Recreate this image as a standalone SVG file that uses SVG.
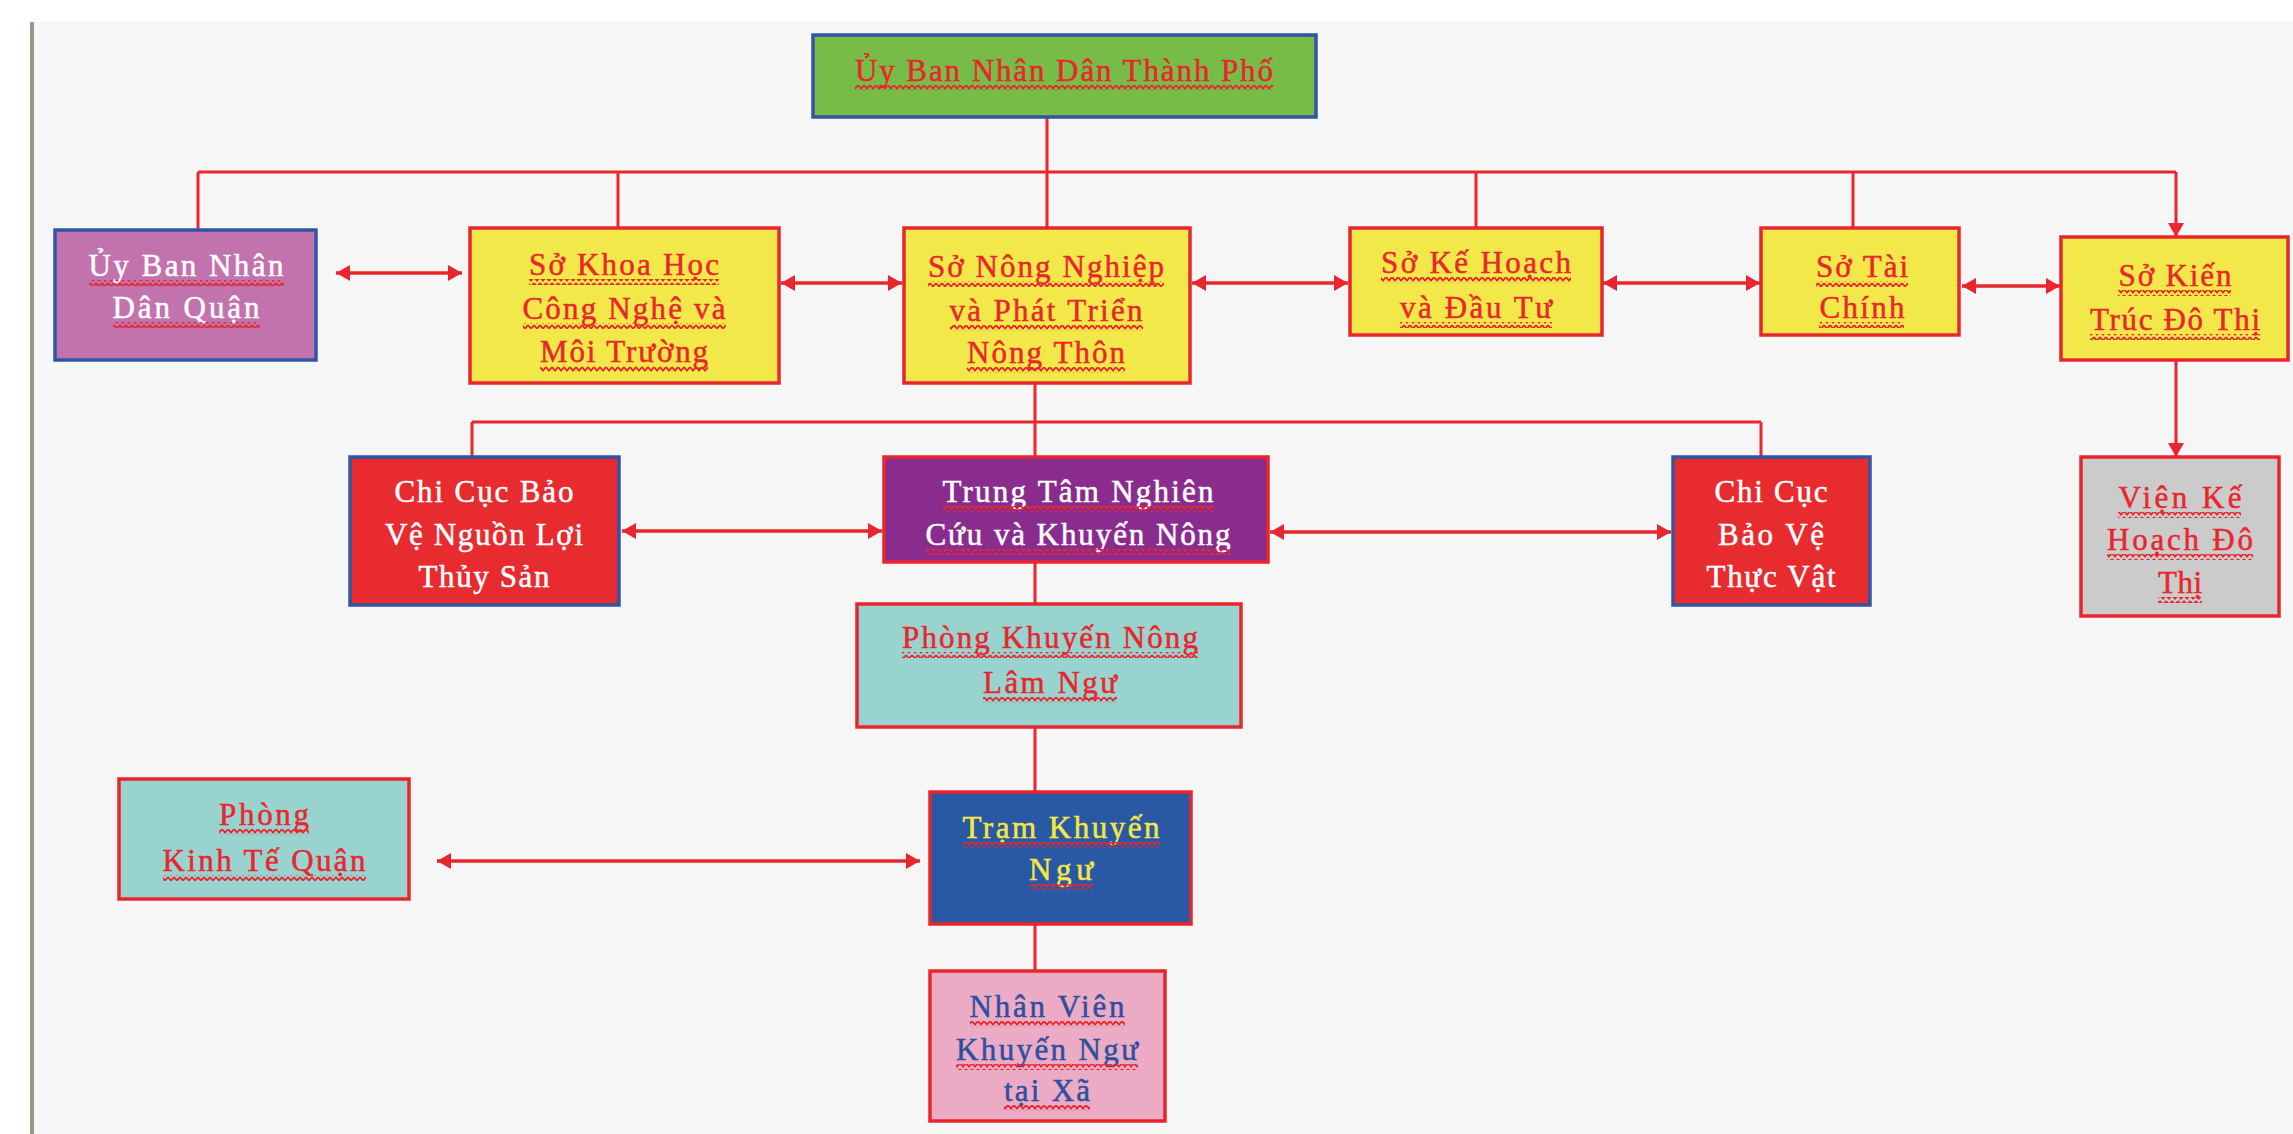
<svg xmlns="http://www.w3.org/2000/svg" width="2293" height="1134" viewBox="0 0 2293 1134">
<style>
.box{stroke-width:3.5}
.rb{stroke:#e8262d}
.bb{stroke:#2f55a4}
.t{font-family:"Liberation Serif","DejaVu Serif",serif;font-size:31px;text-anchor:middle;stroke-width:0.5}
.tr{fill:#e8262d;stroke:#e8262d}
.tw{fill:#ffffff;stroke:#ffffff}
.ty{fill:#f5e842;stroke:#f5e842}
.tb{fill:#2d4fa0;stroke:#2d4fa0}
.ln{stroke:#e8262d;stroke-width:3;fill:none}
.ar{stroke:#e8262d;stroke-width:3.5;fill:none;marker-start:url(#ah);marker-end:url(#ah)}
.ad{stroke:#e8262d;stroke-width:3;fill:none;marker-end:url(#ah)}
.sq{fill:url(#sq)}
</style>
<defs>
<marker id="ah" markerUnits="userSpaceOnUse" viewBox="0 0 14 16" refX="14" refY="8" markerWidth="14" markerHeight="16" orient="auto-start-reverse">
<path d="M0 0 L14 8 L0 16 Z" fill="#e8262d"/>
</marker>
<pattern id="sq" patternUnits="userSpaceOnUse" width="6" height="6">
<path d="M0 1 L3 4.5 L6 1" stroke="#e8262d" stroke-width="1.8" fill="none"/>
</pattern>
</defs>
<rect x="0" y="0" width="2293" height="1134" fill="#ffffff"/>
<rect x="32" y="22" width="2261" height="1112" fill="#f6f6f6"/>
<rect x="30" y="22" width="4" height="1112" fill="#9e9587"/>

<g id="connectors">
<path class="ln" d="M1047 117 V172 M198 172 H2176 M198 172 V230 M618 172 V228 M1047 172 V228 M1476 172 V228 M1853 172 V228"/>
<path class="ln" d="M1035 383 V422 M472 422 H1761 M472 422 V457 M1035 422 V457 M1761 422 V457"/>
<path class="ln" d="M1035 562 V604 M1035 727 V792 M1035 924 V971"/>
<path class="ad" d="M2176 172 V237"/>
<path class="ad" d="M2176 360 V457"/>
<path class="ar" d="M336 273 H462"/>
<path class="ar" d="M781 283 H902"/>
<path class="ar" d="M1192 283 H1348"/>
<path class="ar" d="M1603 283 H1760"/>
<path class="ar" d="M1962 286 H2060"/>
<path class="ar" d="M622 531 H882"/>
<path class="ar" d="M1270 532 H1671"/>
<path class="ar" d="M437 861 H920"/>
</g>

<g id="ubnd-tp">
<rect class="box bb" x="813" y="35" width="503" height="82" fill="#77bc47"/>
<text class="t tr" x="1064" y="81" textLength="418" lengthAdjust="spacing">Ủy Ban Nhân Dân Thành Phố</text>
<rect class="sq" x="855" y="85" width="418" height="6"/>
</g>

<g id="ubnd-quan">
<rect class="box bb" x="55" y="230" width="261" height="130" fill="#c272ad"/>
<text class="t tw" x="186" y="276" textLength="195" lengthAdjust="spacing">Ủy Ban Nhân</text>
<text class="t tw" x="186" y="318" textLength="147" lengthAdjust="spacing">Dân Quận</text>
<rect class="sq" x="89" y="280" width="195" height="6"/>
<rect class="sq" x="113" y="322" width="147" height="6"/>
</g>

<g id="so-khcn">
<rect class="box rb" x="470" y="228" width="309" height="155" fill="#f3e84a"/>
<text class="t tr" x="624" y="275" textLength="190" lengthAdjust="spacing">Sở Khoa Học</text>
<text class="t tr" x="624" y="319" textLength="203" lengthAdjust="spacing">Công Nghệ và</text>
<text class="t tr" x="624" y="362" textLength="168" lengthAdjust="spacing">Môi Trường</text>
<rect class="sq" x="529" y="279" width="190" height="6"/>
<rect class="sq" x="523" y="323" width="203" height="6"/>
<rect class="sq" x="540" y="366" width="168" height="6"/>
</g>

<g id="so-nn">
<rect class="box rb" x="904" y="228" width="286" height="155" fill="#f3e84a"/>
<text class="t tr" x="1046" y="277" textLength="236" lengthAdjust="spacing">Sở Nông Nghiệp</text>
<text class="t tr" x="1046" y="321" textLength="193" lengthAdjust="spacing">và Phát Triển</text>
<text class="t tr" x="1046" y="363" textLength="158" lengthAdjust="spacing">Nông Thôn</text>
<rect class="sq" x="928" y="281" width="236" height="6"/>
<rect class="sq" x="950" y="325" width="193" height="6"/>
<rect class="sq" x="967" y="367" width="158" height="6"/>
</g>

<g id="so-khdt">
<rect class="box rb" x="1350" y="228" width="252" height="107" fill="#f3e84a"/>
<text class="t tr" x="1476" y="273" textLength="190" lengthAdjust="spacing">Sở Kế Hoạch</text>
<text class="t tr" x="1476" y="318" textLength="152" lengthAdjust="spacing">và Đầu Tư</text>
<rect class="sq" x="1381" y="277" width="190" height="6"/>
<rect class="sq" x="1400" y="322" width="152" height="6"/>
</g>

<g id="so-tc">
<rect class="box rb" x="1761" y="228" width="198" height="107" fill="#f3e84a"/>
<text class="t tr" x="1862" y="277" textLength="92" lengthAdjust="spacing">Sở Tài</text>
<text class="t tr" x="1862" y="318" textLength="85" lengthAdjust="spacing">Chính</text>
<rect class="sq" x="1816" y="281" width="92" height="6"/>
<rect class="sq" x="1819" y="322" width="85" height="6"/>
</g>

<g id="so-kt">
<rect class="box rb" x="2061" y="237" width="227" height="123" fill="#f3e84a"/>
<text class="t tr" x="2175" y="286" textLength="113" lengthAdjust="spacing">Sở Kiến</text>
<text class="t tr" x="2175" y="330" textLength="170" lengthAdjust="spacing">Trúc Đô Thị</text>
<rect class="sq" x="2118" y="290" width="113" height="6"/>
<rect class="sq" x="2090" y="334" width="170" height="6"/>
</g>

<g id="chicuc-ts">
<rect class="box bb" x="350" y="457" width="269" height="148" fill="#e72b2f"/>
<text class="t tw" x="484" y="502" textLength="179" lengthAdjust="spacing">Chi Cục Bảo</text>
<text class="t tw" x="484" y="545" textLength="198" lengthAdjust="spacing">Vệ Nguồn Lợi</text>
<text class="t tw" x="484" y="587" textLength="131" lengthAdjust="spacing">Thủy Sản</text>
</g>

<g id="trung-tam">
<rect class="box rb" x="884" y="457" width="384" height="105" fill="#8a2c8e"/>
<text class="t tw" x="1078" y="502" textLength="271" lengthAdjust="spacing">Trung Tâm Nghiên</text>
<text class="t tw" x="1078" y="545" textLength="305" lengthAdjust="spacing">Cứu và Khuyến Nông</text>
<rect class="sq" x="943" y="506" width="271" height="6"/>
<rect class="sq" x="926" y="549" width="305" height="6"/>
</g>

<g id="chicuc-tv">
<rect class="box bb" x="1673" y="457" width="197" height="148" fill="#e72b2f"/>
<text class="t tw" x="1771" y="502" textLength="113" lengthAdjust="spacing">Chi Cục</text>
<text class="t tw" x="1771" y="545" textLength="106" lengthAdjust="spacing">Bảo Vệ</text>
<text class="t tw" x="1771" y="587" textLength="129" lengthAdjust="spacing">Thực Vật</text>
</g>

<g id="vien-kh">
<rect class="box rb" x="2081" y="457" width="198" height="159" fill="#cbcbcb"/>
<text class="t tr" x="2180" y="508" textLength="123" lengthAdjust="spacing">Viện Kế</text>
<text class="t tr" x="2180" y="550" textLength="146" lengthAdjust="spacing">Hoạch Đô</text>
<text class="t tr" x="2180" y="593" textLength="44" lengthAdjust="spacing">Thị</text>
<rect class="sq" x="2118" y="512" width="123" height="6"/>
<rect class="sq" x="2107" y="554" width="146" height="6"/>
<rect class="sq" x="2158" y="597" width="44" height="6"/>
</g>

<g id="phong-kn">
<rect class="box rb" x="857" y="604" width="384" height="123" fill="#99d3cf"/>
<text class="t tr" x="1050" y="648" textLength="296" lengthAdjust="spacing">Phòng Khuyến Nông</text>
<text class="t tr" x="1050" y="693" textLength="134" lengthAdjust="spacing">Lâm Ngư</text>
<rect class="sq" x="902" y="652" width="296" height="6"/>
<rect class="sq" x="983" y="697" width="134" height="6"/>
</g>

<g id="phong-kt">
<rect class="box rb" x="119" y="779" width="290" height="120" fill="#99d3cf"/>
<text class="t tr" x="264" y="825" textLength="90" lengthAdjust="spacing">Phòng</text>
<text class="t tr" x="264" y="871" textLength="203" lengthAdjust="spacing">Kinh Tế Quận</text>
<rect class="sq" x="219" y="829" width="90" height="6"/>
<rect class="sq" x="163" y="875" width="203" height="6"/>
</g>

<g id="tram-kn">
<rect class="box rb" x="930" y="792" width="261" height="132" fill="#2958a5"/>
<text class="t ty" x="1061" y="838" textLength="197" lengthAdjust="spacing">Trạm Khuyến</text>
<text class="t ty" x="1061" y="880" textLength="64" lengthAdjust="spacing">Ngư</text>
<rect class="sq" x="963" y="842" width="197" height="6"/>
<rect class="sq" x="1029" y="884" width="64" height="6"/>
</g>

<g id="nhan-vien">
<rect class="box rb" x="930" y="971" width="235" height="150" fill="#ebabc4"/>
<text class="t tb" x="1047" y="1017" textLength="155" lengthAdjust="spacing">Nhân Viên</text>
<text class="t tb" x="1047" y="1060" textLength="182" lengthAdjust="spacing">Khuyến Ngư</text>
<text class="t tb" x="1047" y="1101" textLength="86" lengthAdjust="spacing">tại Xã</text>
<rect class="sq" x="970" y="1021" width="155" height="6"/>
<rect class="sq" x="956" y="1064" width="182" height="6"/>
<rect class="sq" x="1004" y="1105" width="86" height="6"/>
</g>
</svg>
